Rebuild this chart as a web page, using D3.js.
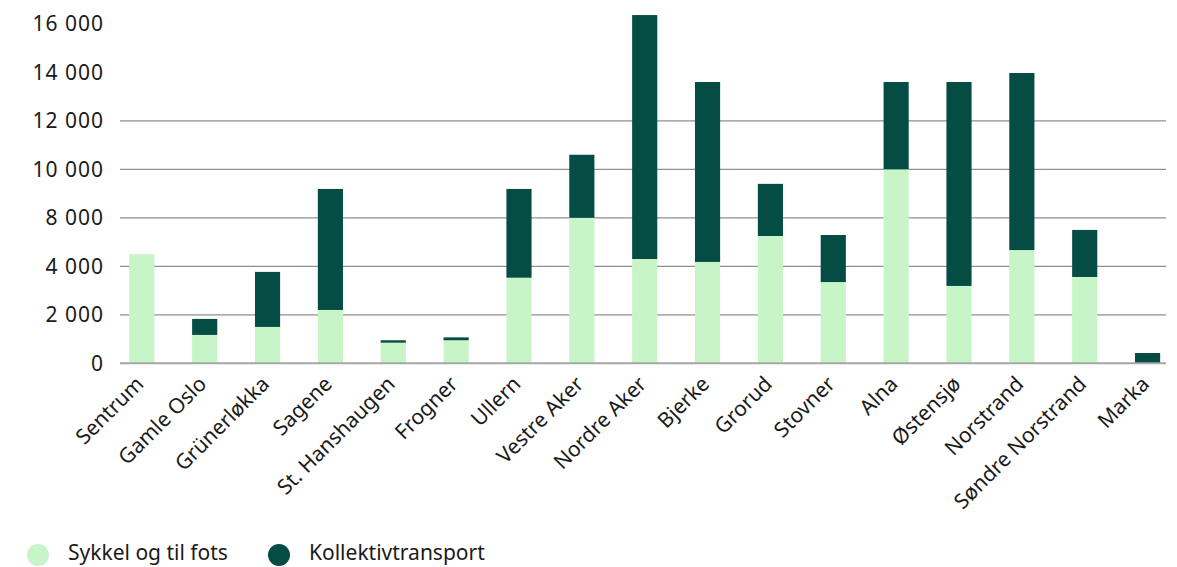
<!DOCTYPE html>
<html>
<head>
<meta charset="utf-8">
<script src="https://cdn.jsdelivr.net/npm/d3@7/dist/d3.min.js"></script>
<style>
  html, body { margin: 0; padding: 0; background: #ffffff; }
  svg { display: block; font-family: "Noto Sans", "Open Sans", sans-serif; }
</style>
</head>
<body>
<svg id="chart" width="1177" height="567"></svg>
<script>
const categories = ["Sentrum", "Gamle Oslo", "Grünerløkka", "Sagene", "St. Hanshaugen", "Frogner", "Ullern", "Vestre Aker", "Nordre Aker", "Bjerke", "Grorud", "Stovner", "Alna", "Østensjø", "Norstrand", "Søndre Norstrand", "Marka"];
const sykkelOgTilFots = [4500, 1170, 1500, 2200, 850, 950, 3530, 6000, 4300, 4180, 5250, 3350, 8000, 3190, 4670, 3560, 0];
const kollektivtransport = [0, 660, 2270, 4990, 100, 120, 3660, 2600, 10060, 7420, 2150, 1940, 3600, 8410, 7300, 1940, 425];
const seriesNames = ["Sykkel og til fots", "Kollektivtransport"];
const seriesColors = ["#c7f5c8", "#044c44"];
const tickValues = [0, 2000, 4000, 6000, 8000, 10000, 12000, 14000];
const tickLabels = ["0", "2 000", "4 000", "8 000", "10 000", "12 000", "14 000", "16 000"];
const gridValues = [0, 2000, 4000, 6000, 8000, 10000];

const svg = d3.select("#chart");
const plotLeft = 120, plotRight = 1166, zeroY = 363.3, topY = 23.8;

const x = d3.scaleBand()
  .domain(categories)
  .range([110.4, 1179])
  .paddingInner(0.6)
  .paddingOuter(0.3);

const y = d3.scaleLinear()
  .domain([0, 14000])
  .range([zeroY, topY]);

// gridlines
svg.append("g")
  .selectAll("line")
  .data(gridValues.filter(d => d > 0))
  .join("line")
  .attr("x1", plotLeft).attr("x2", plotRight)
  .attr("y1", d => y(d)).attr("y2", d => y(d))
  .attr("stroke", "#8f8f8f").attr("stroke-width", 1.2);

// y axis labels
const yAxis = d3.axisLeft(y)
  .tickValues(tickValues)
  .tickSize(0)
  .tickPadding(0)
  .tickFormat((d, i) => tickLabels[i]);
const yg = svg.append("g").attr("transform", "translate(104,0)").call(yAxis);
yg.select(".domain").remove();
yg.selectAll("text")
  .attr("font-size", 21)
  .attr("letter-spacing", "1px")
  .attr("fill", "#1a1a1a")
  .attr("font-family", "Noto Sans");

// stacked data
const rows = categories.map((c, i) => ({ cat: c, s0: sykkelOgTilFots[i], s1: kollektivtransport[i] }));
const stack = d3.stack().keys(["s0", "s1"]);
const stacked = stack(rows);

svg.append("g")
  .selectAll("g")
  .data(stacked)
  .join("g")
  .attr("fill", (d, i) => seriesColors[i])
  .selectAll("rect")
  .data(d => d)
  .join("rect")
  .attr("x", d => x(d.data.cat))
  .attr("width", x.bandwidth())
  .attr("y", d => y(d[1]))
  .attr("height", d => Math.max(0, y(d[0]) - y(d[1])));

// zero line
svg.append("line")
  .attr("x1", plotLeft).attr("x2", plotRight)
  .attr("y1", y(0)).attr("y2", y(0))
  .attr("stroke", "#a6a6a6").attr("stroke-width", 2);

// x axis labels
const xAxis = d3.axisBottom(x).tickSize(0).tickPadding(0);
const xg = svg.append("g").attr("transform", `translate(3,${y(0) + 22})`).call(xAxis);
xg.select(".domain").remove();
xg.selectAll("text")
  .attr("font-size", 21)
  .attr("fill", "#1a1a1a")
  .attr("font-family", "Noto Sans")
  .attr("text-anchor", "end")
  .attr("dy", 0)
  .attr("y", 0)
  .attr("transform", "rotate(-45)");

// legend
const legend = svg.append("g").attr("transform", "translate(0,555)");
const legendX = [38, 279];
seriesNames.forEach((name, i) => {
  const g = legend.append("g").attr("transform", `translate(${legendX[i]},0)`);
  g.append("circle").attr("r", 11).attr("fill", seriesColors[i]);
  g.append("text")
    .attr("x", 30).attr("y", 5)
    .attr("font-size", 21)
    .attr("fill", "#1a1a1a")
    .text(name);
});
</script>
</body>
</html>
